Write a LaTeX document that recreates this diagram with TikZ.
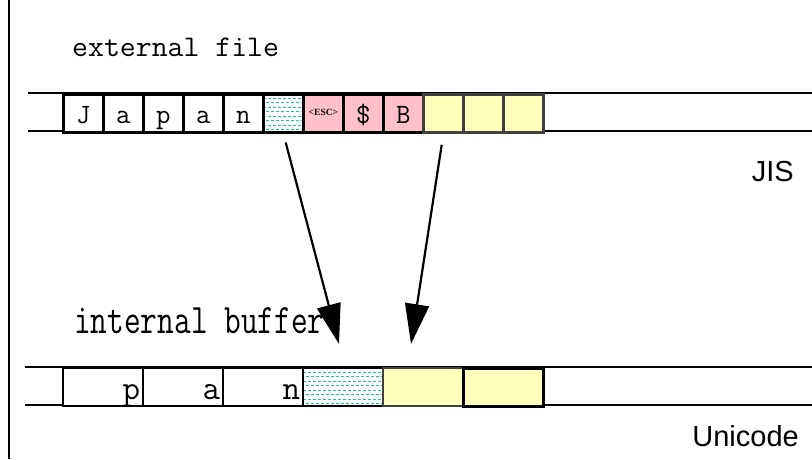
\documentclass[tikz,border=0pt]{standalone}
\usepackage{fontspec}
\setmainfont{Liberation Sans}
\newfontfamily\serifb{Liberation Serif}
\usetikzlibrary{arrows.meta,calc}
\definecolor{pinkc}{RGB}{255,192,203}
\definecolor{yelc}{RGB}{255,255,190}
\definecolor{tealc}{RGB}{20,200,150}
\begin{document}
\begin{tikzpicture}[x=1pt,y=-1pt,
  rail/.style={line width=2.8pt, black},
  cellA/.style={draw=black, line width=2.8pt, minimum width=40pt, minimum height=38pt,
    inner sep=0pt, anchor=north west, fill=white,
    font=\ttfamily\fontsize{28}{28}\selectfont, text height=20pt, text depth=0pt},
  cellB/.style={draw=black, line width=2.4pt, minimum width=80pt, minimum height=38pt,
    inner sep=0pt, anchor=north west, fill=white, text width=74pt, align=right,
    font=\ttfamily\fontsize{34}{34}\selectfont, text height=24pt, text depth=0pt},
  pinkcell/.style={fill=pinkc},
  yelcell/.style={fill=yelc, draw=black!75},
  dotcell/.style={fill=white, path picture={
      \foreach \k in {4,13,22,31}{
        \draw[tealc, line width=0.9pt, dash pattern=on 3pt off 2pt]
          ($(path picture bounding box.north west)+(0,\k)$) --
          ($(path picture bounding box.north east)+(0,\k)$);}
      \foreach \k in {8.5,17.5,26.5,35.5}{
        \draw[tealc, line width=0.9pt, dash pattern=on 3pt off 2pt, dash phase=2.5pt]
          ($(path picture bounding box.north west)+(0,\k)$) --
          ($(path picture bounding box.north east)+(0,\k)$);}
    }},
  arr/.style={line width=2.2pt, -{Triangle[length=40pt,width=24pt]}},
  title/.style={anchor=base west, inner sep=0pt, font=\ttfamily\fontsize{30}{30}\selectfont},
  enc/.style={anchor=base east, inner sep=0pt, font=\fontsize{29}{29}\selectfont}
]
\useasboundingbox (0,0) rectangle (812,459);
\draw[line width=1.5pt] (9,0) -- (9,459);

% labels
\node[title] (ext) at (72,56) {\scalebox{1.03}[1]{external file}};
\node[title] (int) at (74,333) {\scalebox{1.08}[1.4]{internal buffer}};
\node[enc] (jis) at (794,181) {JIS};
\node[enc] (uni) at (799,446) {Unicode};

% top rails
\draw[rail] (28,93) -- (812,93);
\draw[rail] (28,131) -- (812,131);
% top cells
\node[cellA] (c1) at (62,93) {J};
\node[cellA] (c2) at (102,93) {a};
\node[cellA] (c3) at (142,93) {p};
\node[cellA] (c4) at (182,93) {a};
\node[cellA] (c5) at (222,93) {n};
\node[cellA, dotcell] (d1) at (262,93) {};
\node[cellA, pinkcell, text height=5pt, font=\serifb\bfseries\fontsize{9.5}{9.5}\selectfont] (esc) at (302,93) {<ESC>};
\node[cellA, pinkcell] (dol) at (342,93) {\$};
\node[cellA, pinkcell] (bb) at (382,93) {B};
\node[cellA, yelcell] (y1) at (422,93) {};
\node[cellA, yelcell] (y2) at (462,93) {};
\node[cellA, yelcell] (y3) at (502,93) {};

% bottom rails
\draw[rail] (25,367) -- (812,367);
\draw[rail] (25,405) -- (812,405);
% bottom cells
\node[cellB] (b1) at (62,367) {p};
\node[cellB] (b2) at (142,367) {a};
\node[cellB] (b3) at (222,367) {n};
\node[cellB, dotcell] (bd) at (302,367) {};
\node[cellB, yelcell, line width=1.6pt] (by1) at (382,367) {};
\node[cellB, yelcell, draw=black, line width=2.8pt] (by2) at (462,367) {};

% arrows
\coordinate (t1) at (339,344);
\coordinate (t2) at (411,344);
\draw[arr, shorten <=9pt] (d1.south) -- (t1);
\draw[arr, shorten <=11pt] (y1.south) -- (t2);
\end{tikzpicture}
\end{document}
